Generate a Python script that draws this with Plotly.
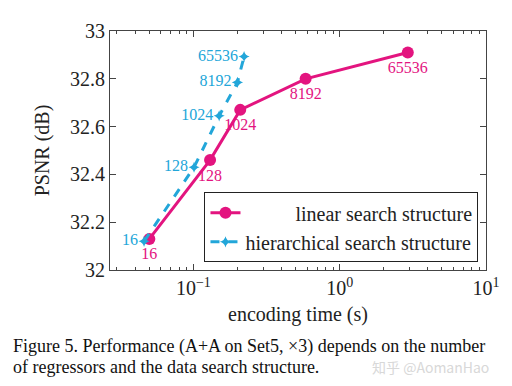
import plotly.graph_objects as go

regressors = ["16", "128", "1024", "8192", "65536"]
linear_time = [0.050, 0.130, 0.209, 0.585, 2.92]
linear_psnr = [32.13, 32.46, 32.67, 32.80, 32.91]
hier_time = [0.046, 0.101, 0.150, 0.200, 0.222]
hier_psnr = [32.12, 32.43, 32.645, 32.785, 32.893]

PINK = "#e3147f"
CYAN = "#22a6d9"
FONT = "'Liberation Serif', 'DejaVu Serif', serif"
NB = "\u00a0"

fig = go.Figure()
fig.add_trace(go.Scatter(
    x=linear_time, y=linear_psnr, mode="lines+markers+text",
    name=NB * 10 + "linear search structure",
    line=dict(color=PINK, width=3),
    marker=dict(color=PINK, size=12, symbol="circle"),
    text=regressors, textposition="bottom center",
    textfont=dict(color=PINK, size=16, family=FONT),
))
fig.add_trace(go.Scatter(
    x=hier_time, y=hier_psnr, mode="lines+markers+text",
    name="hierarchical search structure",
    line=dict(color=CYAN, width=3, dash="dash"),
    marker=dict(color=CYAN, size=8, symbol="star-diamond"),
    text=regressors, textposition="middle left",
    textfont=dict(color=CYAN, size=16, family=FONT),
))

axis_common = dict(
    showline=True, linecolor="#444", linewidth=1.2, mirror="allticks",
    ticks="inside", ticklen=6, tickcolor="#444", showgrid=False, zeroline=False,
    tickfont=dict(family=FONT, size=20, color="#222"),
    title_font=dict(family=FONT, size=20, color="#222"),
)

minor_vals = [m * 10 ** k for k in range(-2, 1) for m in range(2, 10)]

fig.update_xaxes(
    type="log", range=[-1.57, 1.0],
    tickvals=[0.1, 1, 10],
    ticktext=["10<sup>\u22121</sup>", "10<sup>0</sup>", "10<sup>1</sup>"],
    minor=dict(ticks="inside", ticklen=3, tickcolor="#444", showgrid=False,
               tickvals=minor_vals),
    title_text="encoding time (s)", title_standoff=8,
    **axis_common,
)
fig.update_yaxes(
    range=[32, 33], tickvals=[32, 32.2, 32.4, 32.6, 32.8, 33],
    ticktext=["32", "32.2", "32.4", "32.6", "32.8", "33"],
    title_text="PSNR (dB)", title_standoff=14,
    **axis_common,
)

fig.update_layout(
    width=504, height=378,
    margin=dict(l=102, r=19, t=12, b=116),
    paper_bgcolor="white", plot_bgcolor="white",
    font=dict(family=FONT, size=20, color="#222"),
    legend=dict(
        x=0.98, y=0.032, xanchor="right", yanchor="bottom",
        bgcolor="white", bordercolor="#222", borderwidth=1,
        font=dict(family=FONT, size=20, color="#222"),
        tracegroupgap=0,
    ),
    annotations=[
        dict(text="Figure 5. Performance (A+A on Set5, \u00d73) depends on the number",
             xref="paper", yref="paper", x=-101/383, y=-80/250, xanchor="left", yanchor="middle",
             showarrow=False, font=dict(family=FONT, size=18, color="#111")),
        dict(text="of regressors and the data search structure.",
             xref="paper", yref="paper", x=-101/383, y=-101/250, xanchor="left", yanchor="middle",
             showarrow=False, font=dict(family=FONT, size=18, color="#111")),
        dict(text="知乎 @AomanHao",
             xref="paper", yref="paper", x=1.013, y=-101/250, xanchor="right", yanchor="middle",
             showarrow=False, font=dict(family="Noto Sans CJK SC", size=14, color="#d8d8d8")),
    ],
)

fig.write_html("out.html")
